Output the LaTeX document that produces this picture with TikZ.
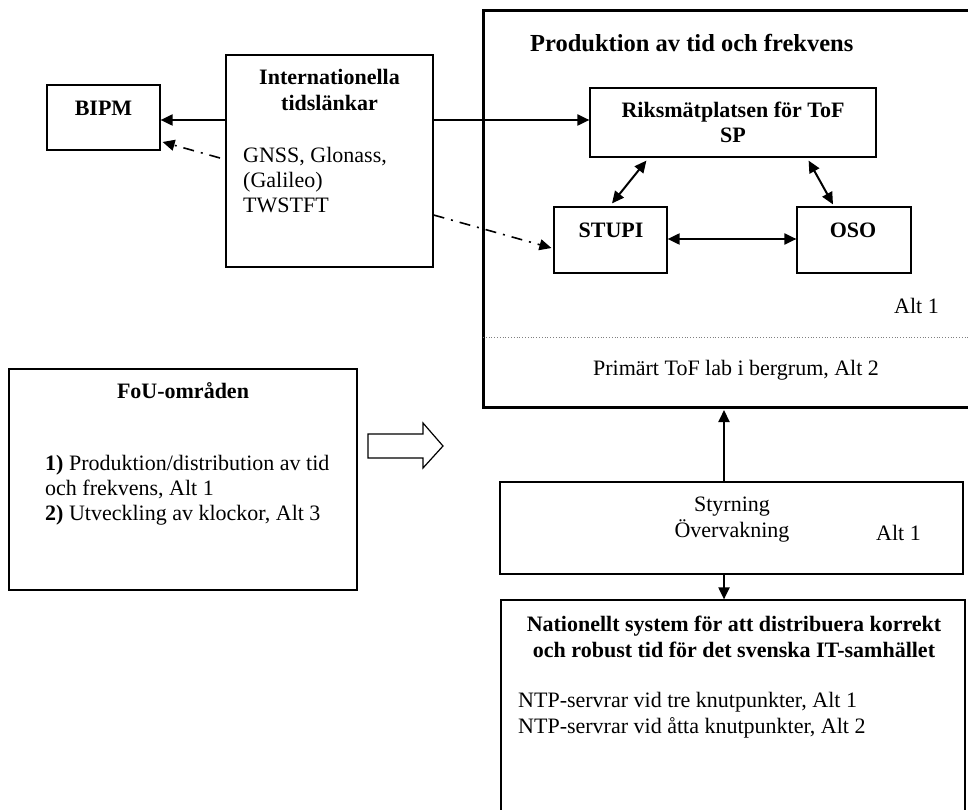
\documentclass[tikz,border=0pt]{standalone}
\usepackage{fontspec}
\setmainfont{Liberation Serif}
\usetikzlibrary{arrows.meta}
\begin{document}
\begin{tikzpicture}[x=1pt,y=-1pt,
  every node/.style={font=\fontsize{22}{25}\selectfont, inner sep=0pt},
  box/.style={draw, line width=1.2pt, rectangle, inner sep=0pt},
  bigbox/.style={draw, line width=3pt, rectangle, inner sep=0pt},
  lbl/.style={anchor=base},
  lbll/.style={anchor=base west},
  bf/.style={font=\fontsize{22}{25}\selectfont\bfseries},
  conn/.style={line width=2pt, -{Triangle[length=12pt,width=11pt]}},
  conn2/.style={line width=2pt, {Triangle[length=12pt,width=11pt]}-{Triangle[length=12pt,width=11pt]}},
  ddash/.style={line width=1.6pt, dash pattern=on 11pt off 7pt on 2pt off 7pt, -{Triangle[length=12pt,width=11pt]}}]
\useasboundingbox (0,0) rectangle (968,810);
\fill[white] (0,0) rectangle (968,810);

% boxes
\node[box, minimum width=113pt, minimum height=65pt] (bipm) at (103.5,117.5) {};
\node[box, minimum width=207pt, minimum height=212pt] (intl) at (329.5,161) {};
\node[bigbox, minimum width=517pt, minimum height=396pt] (big) at (741.5,209) {};
\node[box, minimum width=286pt, minimum height=69pt] (riks) at (733,122.5) {};
\node[box, minimum width=113pt, minimum height=66pt] (stupi) at (610.5,240) {};
\node[box, minimum width=114pt, minimum height=66pt] (oso) at (854,240) {};
\node[box, minimum width=348pt, minimum height=221pt] (fou) at (183,479.5) {};
\node[box, minimum width=463pt, minimum height=92pt] (styr) at (731.5,528) {};
\node[box, minimum width=464pt, minimum height=240pt] (nat) at (733,720) {};

% texts
\node[lbl, bf] (tbipm) at (103.5,116) {BIPM};
\node[lbl, bf] (tintl1) at (329.5,85) {Internationella};
\node[lbl, bf] (tintl2) at (329.5,111) {tidsl\"ankar};
\node[lbll] (tintl3) at (243,163) {GNSS, Glonass,};
\node[lbll] (tintl4) at (243,188) {(Galileo)};
\node[lbll] (tintl5) at (243,213) {TWSTFT};
\node[lbll, font=\fontsize{24.5}{28}\selectfont\bfseries] (tbig) at (530,52) {Produktion av tid och frekvens};
\node[lbl, bf] (triks1) at (733,118) {Riksm\"atplatsen f\"or ToF};
\node[lbl, bf] (triks2) at (733,143) {SP};
\node[lbl, bf] (tstupi) at (611,237) {STUPI};
\node[lbl, bf] (toso) at (853,237) {OSO};
\node[lbll] (talt1) at (894,313) {Alt 1};
\node[lbl] (tprim) at (736,375) {Prim\"art ToF lab i bergrum, Alt 2};
\node[lbl, bf] (tfou) at (183,398) {FoU-omr\aa den};
\node[lbll] (tfou1) at (45,470) {\textbf{1)} Produktion/distribution av tid};
\node[lbll] (tfou2) at (45,495) {och frekvens, Alt 1};
\node[lbll] (tfou3) at (45,520) {\textbf{2)} Utveckling av klockor, Alt 3};
\node[lbl] (tstyr1) at (732,511) {Styrning};
\node[lbl] (tstyr2) at (732,537) {\"Overvakning};
\node[lbll] (tstyr3) at (876,540) {Alt 1};
\node[lbl, bf] (tnat1) at (734,631) {Nationellt system f\"or att distribuera korrekt};
\node[lbl, bf] (tnat2) at (734,657) {och robust tid f\"or det svenska IT-samh\"allet};
\node[lbll] (tnat3) at (518,707) {NTP-servrar vid tre knutpunkter, Alt 1};
\node[lbll] (tnat4) at (518,733) {NTP-servrar vid \aa tta knutpunkter, Alt 2};

% dotted separator
\coordinate (sepL) at (483,337);
\coordinate (sepR) at (968,337);
\draw[gray, line width=0.8pt, dotted] (sepL) -- (sepR);

% hollow arrow
\draw[line width=1.2pt, line join=miter] (368,434) -- (423,434) -- (423,423) -- (443,446) -- (423,468) -- (423,458) -- (368,458) -- cycle;

% connectors
\path ([yshift=-2.5pt]bipm.east) coordinate (bipmIn);
\draw[conn] (intl.west |- bipmIn) -- (bipmIn);
\path ([yshift=2.5pt]riks.west) coordinate (riksIn);
\draw[conn] (intl.east |- riksIn) -- (riksIn);
\coordinate (dd1) at (220,158);
\draw[ddash] (dd1) -- ([xshift=2pt,yshift=-24.5pt]bipm.east);
\draw[ddash] ([yshift=-54pt]intl.east) -- ([xshift=-2pt,yshift=-8pt]stupi.west);
\draw[conn2] ([xshift=57pt,yshift=-3pt]riks.south west) -- ([xshift=1.5pt,yshift=3pt]stupi.north);
\draw[conn2] ([xshift=-68pt,yshift=-3pt]riks.south east) -- ([xshift=-21pt,yshift=2pt]oso.north);
\draw[conn2] ([yshift=1pt]stupi.east) -- ([yshift=1pt]oso.west);
\path ([xshift=-7.5pt]styr.north) coordinate (styrN);
\path ([xshift=-7.5pt]styr.south) coordinate (styrS);
\draw[conn] (styrN) -- ([yshift=-1.5pt]styrN |- big.south);
\draw[conn] (styrS) -- (styrS |- nat.north);
\end{tikzpicture}
\end{document}
